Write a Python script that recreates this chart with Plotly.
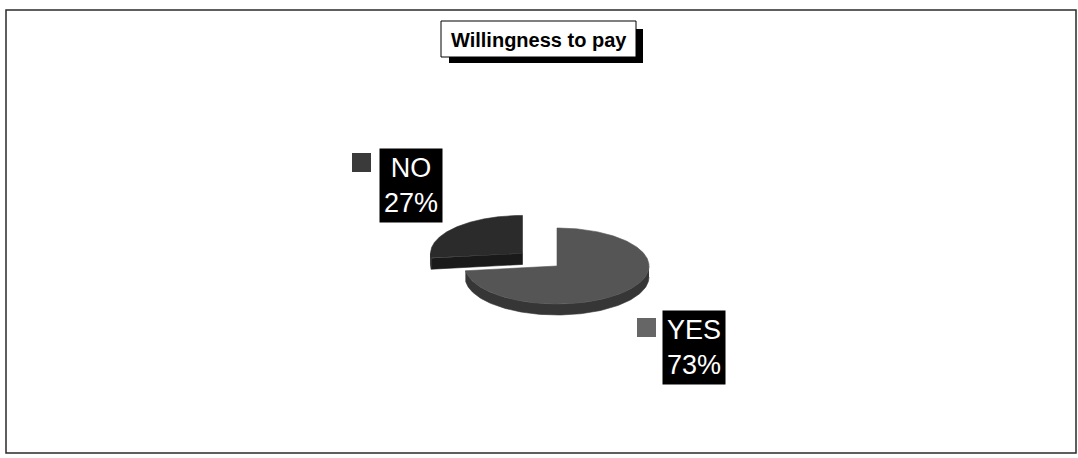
import numpy as np
import plotly.graph_objects as go

# Survey result
labels = ["YES", "NO"]
values = [73, 27]
title_text = "Willingness to pay"

# Styling
top_colors = ["#555555", "#2b2b2b"]
side_colors = ["#363636", "#1a1a1a"]
key_colors = ["#666666", "#3a3a3a"]

W, H = 1078, 458
CX, CY = 557, 266        # centre of the pie top face (pixels)
RX, RY = 92, 38          # projected radii of the tilted disc
DEPTH = 11               # thickness of the disc
EXPLODE = {"NO": 0.5}    # pull-out, as a fraction of the radius


def proj(t, cx, cy, dy=0.0):
    """Project a pie angle (degrees clockwise from 12 o'clock) to the screen."""
    r = np.radians(t)
    return cx + RX * np.sin(r), cy - RY * np.cos(r) + dy


def poly(x, y, color):
    return go.Scatter(x=x, y=y, fill="toself", fillcolor=color, mode="lines",
                      line=dict(width=0.6, color=color), hoverinfo="skip",
                      showlegend=False)


fig = go.Figure()

total = sum(values)
starts = np.concatenate([[0], np.cumsum(values)[:-1]]) / total * 360
spans = np.array(values) / total * 360

pieces = []
for lab, a0, sp, tc, sc in zip(labels, starts, spans, top_colors, side_colors):
    a1 = a0 + sp
    mid = np.radians((a0 + a1) / 2)
    k = EXPLODE.get(lab, 0.0)
    cx = CX + k * RX * np.sin(mid)
    cy = CY - k * RY * np.cos(mid)
    pieces.append((lab, a0, a1, cx, cy, tc, sc))

# back pieces first so the front slice overlaps them
pieces.sort(key=lambda p: p[4])

for lab, a0, a1, cx, cy, tc, sc in pieces:
    # visible outer wall: front half of the rim (90..270 deg)
    lo, hi = max(a0, 90), min(a1, 270)
    if hi > lo:
        t = np.linspace(lo, hi, 120)
        xt, yt = proj(t, cx, cy)
        xb, yb = proj(t[::-1], cx, cy, DEPTH)
        fig.add_trace(poly(np.r_[xt, xb], np.r_[yt, yb], sc))
    # cut faces that face the viewer
    for edge, side in ((a0, -1), (a1, 1)):
        nx = np.cos(np.radians(edge + 90 * side))
        if nx < 0:  # normal points towards the viewer
            ex, ey = proj(edge, cx, cy)
            fig.add_trace(poly([cx, ex, ex, cx, cx],
                               [cy, ey, ey + DEPTH, cy + DEPTH, cy], sc))
    # top face
    t = np.linspace(a0, a1, 240)
    xt, yt = proj(t, cx, cy)
    fig.add_trace(poly(np.r_[cx, xt, cx], np.r_[cy, yt, cy], tc))

shapes = [
    # outer chart frame
    dict(type="rect", x0=6, y0=10, x1=1076, y1=453, line=dict(color="#2a2a2a", width=1.5)),
    # title box with drop shadow
    dict(type="rect", x0=449, y0=29, x1=643, y1=63, fillcolor="black", line=dict(width=0)),
    dict(type="rect", x0=441, y0=21, x1=636, y1=57, fillcolor="white",
         line=dict(color="black", width=1)),
]

annotations = [
    dict(x=538.5, y=40, text="<b>%s</b>" % title_text, showarrow=False,
         font=dict(family="Arial, Liberation Sans", size=20, color="black")),
]

# data labels with legend keys
label_pos = {"NO": (410.5, 185, 361.5, 162.5), "YES": (693.5, 347.5, 646.5, 327.5)}
for lab, val, kc in zip(labels, values, key_colors):
    bx, by, kx, ky = label_pos[lab]
    pct = round(val / total * 100)
    annotations.append(dict(x=bx, y=by, text="%s<br>%d%%" % (lab, pct), showarrow=False,
                            bgcolor="black", borderpad=4, align="center",
                            font=dict(family="Arial, Liberation Sans", size=27, color="white")))
    shapes.append(dict(type="rect", x0=kx - 9.5, y0=ky - 9.5, x1=kx + 9.5, y1=ky + 9.5,
                       fillcolor=kc, line=dict(width=0)))

fig.update_layout(
    width=W, height=H,
    margin=dict(l=0, r=0, t=0, b=0),
    paper_bgcolor="white", plot_bgcolor="white",
    xaxis=dict(range=[0, W], visible=False, fixedrange=True),
    yaxis=dict(range=[H, 0], visible=False, fixedrange=True),
    shapes=shapes, annotations=annotations, showlegend=False,
)

fig.write_html("out.html", config={"displayModeBar": False})
